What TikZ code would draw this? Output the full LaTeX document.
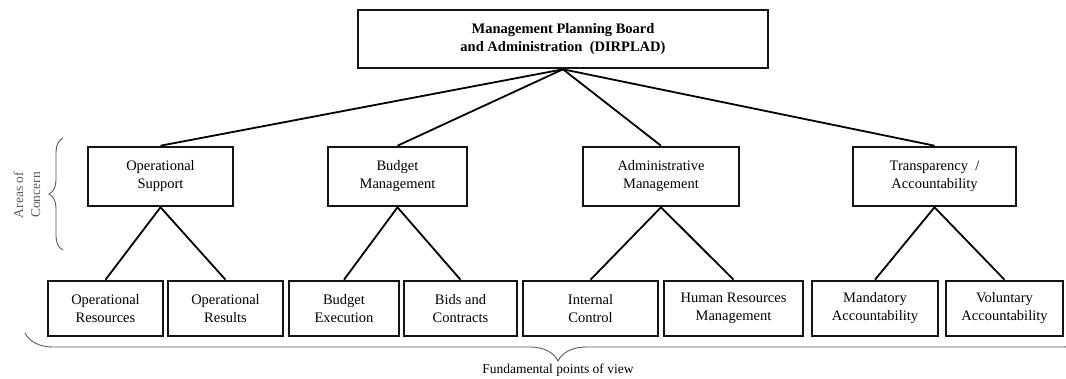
\documentclass[tikz,border=0pt]{standalone}
\usepackage{fontspec}
\setmainfont{Liberation Serif}
\usepackage{tikz}
\usetikzlibrary{decorations.pathreplacing}
\definecolor{box_black}{RGB}{20,20,20}
\definecolor{brace_gray}{RGB}{90,90,90}
\newcommand\boxfont{\fontsize{14.5}{18}\selectfont}

\begin{document}
\begin{tikzpicture}[x=1pt,y=-1pt,line width=1.8pt]
    \tikzstyle{box}=[draw=box_black, line width=2.6pt, rectangle, align=center, fill=none, text=black, inner sep=1pt, font=\boxfont]
    \tikzstyle{area}=[style=box, minimum height=59]
    \tikzstyle{view}=[style=box, minimum height=55]
    \tikzstyle{brc}=[draw=brace_gray, line width=0.9pt, decorate]

    \useasboundingbox (0,0) rectangle (1066,378);

    \node[box, minimum width=410, minimum height=58] (top) at (563,39)
        {\textbf{Management Planning Board}\\ \textbf{and Administration\ \ (DIRPLAD)}};

    \node[area, minimum width=145] (opsup)  at (160.5,176.5) {Operational\\Support};
    \node[area, minimum width=139] (budget) at (397.5,176.5) {Budget\\Management};
    \node[area, minimum width=156] (admin)  at (661,176.5)   {Administrative\\Management};
    \node[area, minimum width=163] (transp) at (934.5,176.5) {Transparency~\ /\\Accountability};

    \node[view, minimum width=115] (opres)  at (105.5,308.5) {Operational\\Resources};
    \node[view, minimum width=115] (opout)  at (225.5,308.5) {Operational\\Results};
    \node[view, minimum width=110] (budex)  at (344,308.5)   {Budget\\Execution};
    \node[view, minimum width=113] (bids)   at (460.5,308.5) {Bids and\\Contracts};
    \node[view, minimum width=135] (intc)   at (590.5,308.5) {Internal\\Control};
    \node[view, minimum width=139] (hrm)    at (733.5,308.5) {Human Resources\\Management};
    \node[view, minimum width=126] (mand)   at (875,308.5)   {Mandatory\\Accountability};
    \node[view, minimum width=117] (volu)   at (1004.5,308.5) {Voluntary\\Accountability};

%   braces and their labels
    \coordinate (lb1) at (63,250);
    \coordinate (lb2) at (63,138);
    \draw[brc, decoration={brace, amplitude=14pt}] (lb1) -- (lb2);
    \node[rotate=90, align=center, text=brace_gray, font=\fontsize{13.5}{17}\selectfont] (aoc) at (27,195) {Areas of\\Concern};

    \coordinate (bb1) at (25,333);
    \coordinate (bb2) at (1091,333);
    \draw[brc, decoration={brace, mirror, amplitude=28pt}] (bb1) -- (bb2);
    \node[text=black, font=\fontsize{13.5}{17}\selectfont] (fpv) at (558,370) {Fundamental points of view};

    \path
     (top.south)    edge (opsup.north)
     (top.south)    edge (budget.north)
     (top.south)    edge (admin.north)
     (top.south)    edge (transp.north)
     (opsup.south)  edge (opres.north)
     (opsup.south)  edge (opout.north)
     (budget.south) edge (budex.north)
     (budget.south) edge (bids.north)
     (admin.south)  edge (intc.north)
     (admin.south)  edge (hrm.north)
     (transp.south) edge (mand.north)
     (transp.south) edge (volu.north)
     ;
\end{tikzpicture}
\end{document}
